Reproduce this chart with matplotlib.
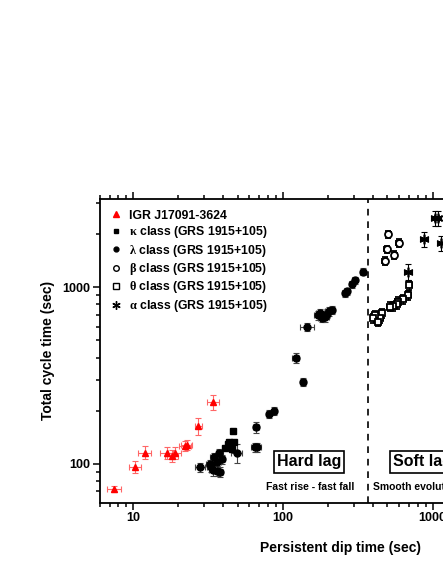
import matplotlib
matplotlib.use("Agg")
import matplotlib.pyplot as plt
from matplotlib.lines import Line2D
from matplotlib.ticker import LogLocator, FixedLocator, NullFormatter

plt.rcParams['font.family'] = ['Liberation Sans', 'DejaVu Sans']
plt.rcParams['font.weight'] = 'bold'
plt.rcParams['mathtext.fontset'] = 'custom'
plt.rcParams['mathtext.rm'] = 'Liberation Serif'
plt.rcParams['mathtext.it'] = 'Liberation Serif'

# IGR J17091-3624
igr_x = [7.5, 10.4, 12.1, 16.9, 18.2, 19.1, 22.3, 22.9, 27.4, 34.4]
igr_y = [72, 96.5, 116, 115, 111, 116, 126, 128, 164, 223]
igr_xerr = [0.8, 1.0, 1.2, 1.6, 1.7, 1.8, 2.0, 2.0, 1.5, 3.0]
igr_yerr = [3, 8, 10, 9, 9, 9, 8, 8, 18, 22]

# kappa class
kappa_x = [46.4, 44.0, 47.5, 41.3, 45.7, 43.0]
kappa_y = [154, 133, 133, 123, 121, 130]

# lambda class
lam_x = [28.1, 32.8, 34.5, 36.2, 38.2, 37.8, 39.3, 36.5, 35.0, 33.5, 49.4, 65.4, 67.8, 66.4,
         81, 88, 137, 122, 146, 173, 182, 190, 197, 205, 212, 178, 193, 260, 270, 288, 303, 345]
lam_y = [95.5, 99.6, 92, 91, 90.5, 116, 106, 103, 110, 96, 115, 124, 124, 161,
         191, 199, 290, 400, 598, 697, 673, 690, 710, 730, 745, 715, 680, 925, 950, 1040, 1100, 1228]
lam_xerr = [2, 2, 2, 2, 2, 2, 2, 2, 2, 2, 4, 4, 4, 3, 3, 3, 6, 6, 15, 10, 10, 10, 10, 12, 12, 10, 10, 12, 12, 12, 12, 15]
lam_yerr = [6, 6, 6, 6, 6, 6, 6, 6, 6, 6, 14, 7, 7, 12, 10, 10, 15, 25, 30, 40, 40, 40, 40, 40, 40, 40, 40, 40, 40, 50, 50, 60]

# beta class
beta_x = [506, 598, 494, 557, 481]
beta_y = [1995, 1788, 1641, 1523, 1409]

# theta class
theta_x = [700, 688, 637, 585, 575, 548, 521, 458, 446, 413, 403, 434]
theta_y = [1030, 905, 855, 829, 805, 784, 777, 713, 667, 697, 667, 639]

# alpha class
alpha_x = [688, 874, 1040, 1080, 1130]
alpha_y = [1226, 1868, 2458, 2458, 1775]

fig = plt.figure(figsize=(4.43, 5.73), dpi=100)
ax = fig.add_axes([99.5 / 443, 1 - 502.5 / 573, 483.0 / 443, (502.5 - 199.3) / 573])
ax.set_xscale('log')
ax.set_yscale('log')
ax.set_xlim(6, 10000)
ax.set_ylim(60.5, 3150)

ekw = dict(capsize=2, elinewidth=0.8, capthick=0.8, linestyle='none')

ax.errorbar(igr_x, igr_y, xerr=igr_xerr, yerr=igr_yerr, fmt='^', color='red',
            ecolor='#ff6666', ms=5, mec='red', **ekw)
ax.errorbar(kappa_x, kappa_y, xerr=[v * 0.03 for v in kappa_x], yerr=[v * 0.03 for v in kappa_y],
            fmt='s', color='black', ecolor='#555555', ms=4.5, **ekw)
ax.errorbar(lam_x, lam_y, xerr=lam_xerr, yerr=lam_yerr, fmt='o', color='black',
            ecolor='#444444', ms=5, **ekw)
ax.errorbar(beta_x, beta_y, xerr=[v * 0.04 for v in beta_x], yerr=[v * 0.05 for v in beta_y],
            fmt='o', mfc='white', mec='black', mew=1.3, ecolor='black', ms=5, **ekw)
ax.errorbar(theta_x, theta_y, xerr=[v * 0.04 for v in theta_x], yerr=[v * 0.06 for v in theta_y],
            fmt='s', mfc='white', mec='black', mew=1.3, ecolor='black', ms=5, **ekw)
ax.errorbar(alpha_x, alpha_y, xerr=[v * 0.06 for v in alpha_x], yerr=[v * 0.1 for v in alpha_y],
            fmt='none', ecolor='black', **ekw)
ax.plot(alpha_x, alpha_y, linestyle='none', marker=(6, 2, 0), ms=7, mew=1.2, color='black')

ax.axvline(372, color='black', lw=1.2, linestyle=(0, (4, 3.5)))

# annotations
ax.text(150, 102.6, 'Hard lag', ha='center', va='center', fontsize=11.5, fontweight='bold',
        bbox=dict(boxstyle='square,pad=0.2', fc='white', ec='black', lw=1.2))
ax.text(152, 74, 'Fast rise - fast fall', ha='center', va='center', fontsize=7.5, fontweight='bold')
ax.text(545, 102.6, 'Soft lag', ha='left', va='center', fontsize=11.5, fontweight='bold',
        bbox=dict(boxstyle='square,pad=0.2', fc='white', ec='black', lw=1.2))
ax.text(403, 74, 'Smooth evolution', ha='left', va='center', fontsize=7.5, fontweight='bold')

# legend
handles = [
    Line2D([], [], ls='none', marker='^', color='red', ms=5),
    Line2D([], [], ls='none', marker='s', color='black', ms=3.5),
    Line2D([], [], ls='none', marker='o', color='black', ms=3.5),
    Line2D([], [], ls='none', marker='o', mfc='white', mec='black', ms=4),
    Line2D([], [], ls='none', marker='s', mfc='white', mec='black', ms=4),
    Line2D([], [], ls='none', marker=(6, 2, 0), color='black', ms=6),
]
labels = ['IGR J17091-3624',
          r'$\kappa$ class (GRS 1915+105)',
          r'$\lambda$ class (GRS 1915+105)',
          r'$\beta$ class (GRS 1915+105)',
          r'$\theta$ class (GRS 1915+105)',
          r'$\alpha$ class (GRS 1915+105)']
leg = ax.legend(handles, labels, loc='upper left', frameon=False, fontsize=8.8,
                handlelength=1.0, handletextpad=0.6, labelspacing=0.2,
                borderaxespad=0.45, bbox_to_anchor=(0.0, 1.0))
for t in leg.get_texts():
    t.set_fontweight('bold')

# ticks
ax.xaxis.set_major_locator(FixedLocator([10, 100, 1000, 10000]))
ax.xaxis.set_minor_locator(LogLocator(base=10, subs=range(2, 10)))
ax.yaxis.set_major_locator(FixedLocator([100, 1000]))
ax.yaxis.set_minor_locator(LogLocator(base=10, subs=range(2, 10)))
ax.xaxis.set_minor_formatter(NullFormatter())
ax.yaxis.set_minor_formatter(NullFormatter())
ax.set_xticklabels(['10', '100', '1000', '10000'])
ax.set_yticklabels(['100', '1000'])
ax.tick_params(which='both', direction='out', top=True, right=True, width=1.1, labelsize=9)
ax.tick_params(which='major', length=5, pad=2)
ax.tick_params(which='minor', length=3)
for lbl in ax.get_xticklabels() + ax.get_yticklabels():
    lbl.set_fontweight('bold')
for s in ax.spines.values():
    s.set_linewidth(1.3)

ax.set_xlabel('Persistent dip time (sec)', fontsize=10, fontweight='bold', labelpad=12)
fig.text(48 / 443, 1 - 350 / 573, 'Total cycle time (sec)', rotation=90, ha='center', va='center',
         fontsize=10, fontweight='bold')

fig.savefig('out.png', dpi=100)
